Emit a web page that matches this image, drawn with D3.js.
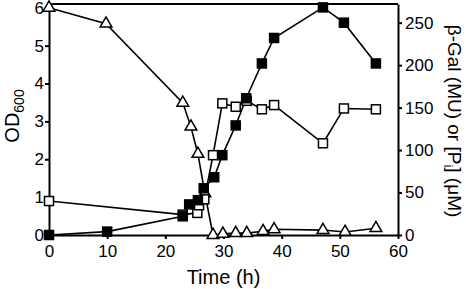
<!DOCTYPE html>
<html>
<head>
<meta charset="utf-8">
<script src="https://cdn.jsdelivr.net/npm/d3@7"></script>
<style>
  body { margin: 0; background: #fff; }
  text { font-family: Arial, "Liberation Sans", Helvetica, sans-serif; fill: #000; }
</style>
</head>
<body>
<div id="chart"></div>
<script>
// chart size and plot edges
var width = 466;
var height = 289;
var plotLeft = 49, plotRight = 398, plotTop = 4, plotBottom = 235;

// OD600 (open triangles, left axis)
var odTime = [0, 9.8, 23.0, 24.4, 25.6, 26.8, 28.2, 29.9, 32.1, 34.0, 36.8, 38.7, 47.1, 50.9, 56.2];
var odValue = [6.0, 5.58, 3.49, 2.86, 2.14, 1.1, 0.0, 0.03, 0.05, 0.05, 0.1, 0.15, 0.13, 0.08, 0.18];

// [Pi] (open squares, right axis)
var piTime = [0, 23.0, 25.5, 25.8, 26.7, 28.2, 29.8, 32.1, 34.0, 36.6, 38.7, 47.1, 50.7, 56.2];
var piValue = [40, 24, 26, 35, 42, 94, 155, 151, 158, 148, 153, 108, 149, 148];

// beta-Gal (filled squares, right axis)
var galTime = [0, 10, 23.0, 24.1, 25.6, 26.6, 28.4, 29.8, 32.1, 33.9, 36.6, 38.7, 47.1, 50.7, 56.2];
var galValue = [0, 4, 22, 36, 41, 55, 68, 94, 129, 161, 202, 232, 268, 250, 202];

var xTicks = [0, 10, 20, 30, 40, 50, 60];
var yLeftTicks = [0, 1, 2, 3, 4, 5, 6];
var yRightTicks = [0, 50, 100, 150, 200, 250];

var x = d3.scaleLinear().domain([0, 60]).range([plotLeft, plotRight]);
var yLeft = d3.scaleLinear().domain([0, 6.1]).range([plotBottom, plotTop]);
var yRight = d3.scaleLinear().domain([0, 272]).range([plotBottom, plotTop]);

var svg = d3.select("#chart").append("svg")
    .attr("width", width)
    .attr("height", height);

// turn two arrays into point objects
function points(ts, vs) {
    return ts.map(function(t, i) { return {t: t, v: vs[i]}; });
}

// axes
var xAxis = svg.append("g")
    .attr("transform", "translate(0," + plotBottom + ")")
    .call(d3.axisBottom(x).tickValues(xTicks).tickFormat(d3.format("d"))
        .tickSize(4).tickPadding(6).tickSizeOuter(0));

var leftAxis = svg.append("g")
    .attr("transform", "translate(" + plotLeft + ",0)")
    .call(d3.axisLeft(yLeft).tickValues(yLeftTicks).tickFormat(d3.format("d"))
        .tickSize(4).tickPadding(1).tickSizeOuter(0));

var rightAxis = svg.append("g")
    .attr("transform", "translate(" + plotRight + ",0)")
    .call(d3.axisRight(yRight).tickValues(yRightTicks).tickFormat(d3.format("d"))
        .tickSize(4).tickPadding(3).tickSizeOuter(0));

[xAxis, leftAxis, rightAxis].forEach(function(g) {
    g.selectAll("path, line").attr("stroke", "#000").attr("stroke-width", 2);
    g.selectAll("text").attr("font-size", 17).style("font-family", "Arial, 'Liberation Sans', sans-serif");
});

// top frame line
svg.append("line")
    .attr("x1", plotLeft).attr("x2", plotRight)
    .attr("y1", plotTop).attr("y2", plotTop)
    .attr("stroke", "#000").attr("stroke-width", 2);

// axis titles
svg.append("text")
    .attr("x", x(30)).attr("y", 284)
    .attr("text-anchor", "middle")
    .attr("font-size", 20)
    .text("Time (h)");

var odLabel = svg.append("text")
    .attr("transform", "translate(19,116) rotate(-90)")
    .attr("text-anchor", "middle")
    .attr("font-size", 20);
odLabel.append("tspan").text("OD");
odLabel.append("tspan").attr("font-size", 14).attr("dy", 5).text("600");

var galLabel = svg.append("text")
    .attr("transform", "translate(448,121) rotate(90)")
    .attr("text-anchor", "middle")
    .attr("font-size", 19);
galLabel.append("tspan").text("\u03b2-Gal (MU) or [P");
galLabel.append("tspan").attr("font-size", 13).attr("dy", 4).text("i");
galLabel.append("tspan").attr("dy", -4).text("] (\u03bcM)");

// lines
var series = [
    {data: points(odTime, odValue), y: yLeft, shape: "tri"},
    {data: points(piTime, piValue), y: yRight, shape: "open"},
    {data: points(galTime, galValue), y: yRight, shape: "filled"}
];

series.forEach(function(s) {
    var line = d3.line()
        .x(function(d) { return x(d.t); })
        .y(function(d) { return s.y(d.v); });
    svg.append("path")
        .datum(s.data)
        .attr("d", line)
        .attr("fill", "none")
        .attr("stroke", "#000")
        .attr("stroke-width", 1.6);
});

// markers
var tri = d3.symbol().type(d3.symbolTriangle).size(60);
var sq = 9;

series.forEach(function(s) {
    var g = svg.append("g");
    if (s.shape == "tri") {
        g.selectAll("path")
            .data(s.data)
          .enter().append("path")
            .attr("d", tri)
            .attr("transform", function(d) {
                return "translate(" + x(d.t) + "," + s.y(d.v) + ")"; })
            .attr("fill", "#fff")
            .attr("stroke", "#000")
            .attr("stroke-width", 1.5);
    }
    else {
        g.selectAll("rect")
            .data(s.data)
          .enter().append("rect")
            .attr("x", function(d) { return x(d.t) - sq / 2; })
            .attr("y", function(d) { return s.y(d.v) - sq / 2; })
            .attr("width", sq)
            .attr("height", sq)
            .attr("fill", s.shape == "filled" ? "#000" : "#fff")
            .attr("stroke", "#000")
            .attr("stroke-width", 1.5);
    }
});
</script>
</body>
</html>
